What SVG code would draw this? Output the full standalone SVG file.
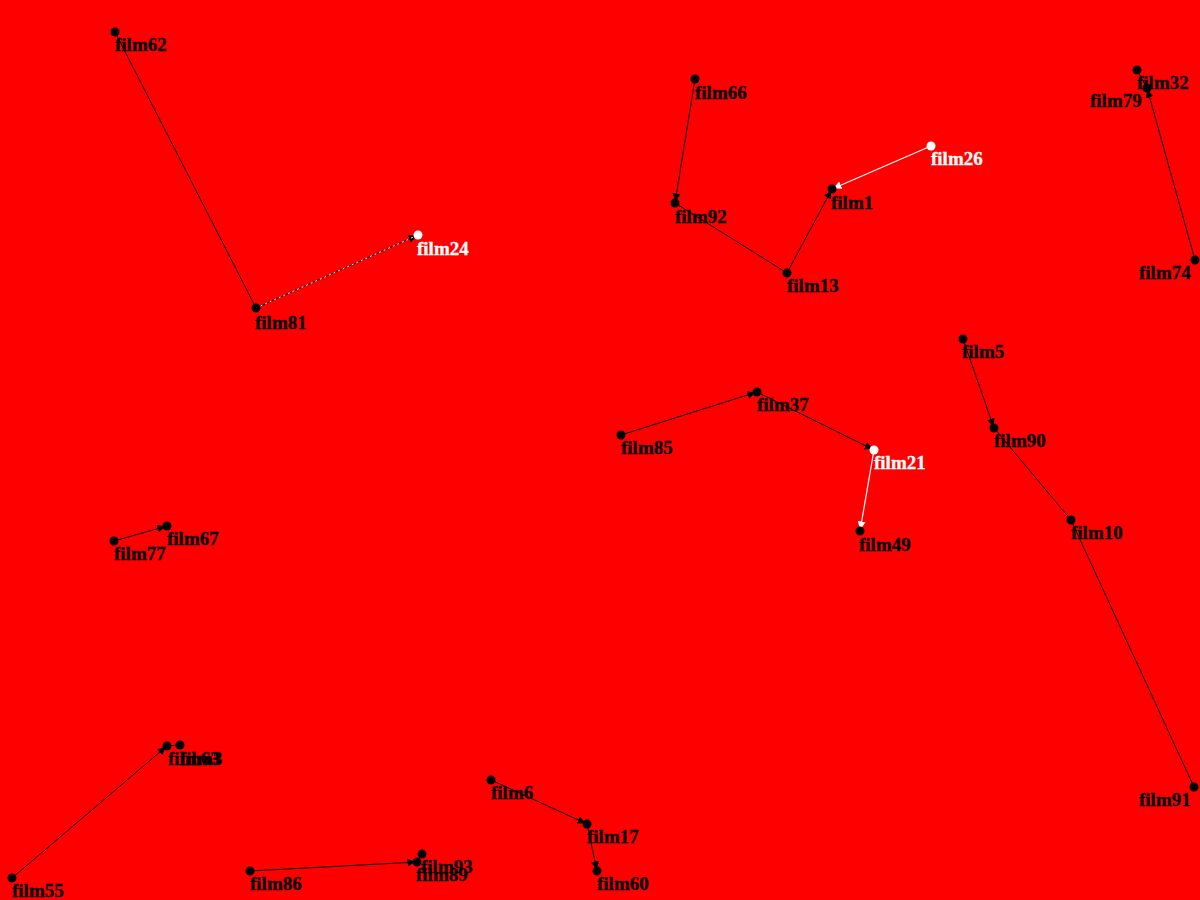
<svg xmlns="http://www.w3.org/2000/svg" width="1200" height="900" viewBox="0 0 1200 900">
<style>
.n{fill:#000}
.w{fill:#fff}
text{font-family:"Liberation Serif","Times New Roman",serif;font-weight:bold;font-size:19px;fill:#000;stroke:#000;stroke-width:0.3}
text.wt{fill:#fff;stroke:#fff}
.e{stroke:#000;stroke-width:1;fill:none}
.ew{stroke:#fff;stroke-width:1.2;fill:none}
.ed{stroke:#fff;stroke-width:1;stroke-dasharray:2 3;fill:none}
</style>
<defs>
<marker id="ab" viewBox="0 0 10 10" refX="12" refY="5" markerWidth="8" markerHeight="8" markerUnits="userSpaceOnUse" orient="auto"><path d="M0,0L10,5L0,10z" fill="#000"/></marker>
<marker id="aw" viewBox="0 0 10 10" refX="12" refY="5" markerWidth="8" markerHeight="8" markerUnits="userSpaceOnUse" orient="auto"><path d="M0,0L10,5L0,10z" fill="#fff"/></marker>
</defs>
<rect width="1200" height="900" fill="#ff0000"/>
<g id="connectors">
<line class="e" x1="115" y1="32" x2="256" y2="308"/>
<line class="e" x1="256" y1="308" x2="418" y2="235" marker-end="url(#ab)"/>
<line class="ed" x1="256" y1="308" x2="418" y2="235"/>
<line class="e" x1="695" y1="79" x2="675" y2="203" marker-end="url(#ab)"/>
<line class="e" x1="675" y1="203" x2="787" y2="273"/>
<line class="e" x1="787" y1="273" x2="832" y2="189" marker-end="url(#ab)"/>
<line class="ew" x1="931" y1="146" x2="832" y2="189" marker-end="url(#aw)"/>
<line class="e" x1="1195" y1="260" x2="1147" y2="88" marker-end="url(#ab)"/>
<line class="e" x1="1137" y1="70" x2="1147" y2="88"/>
<line class="e" x1="963" y1="339" x2="994" y2="428" marker-end="url(#ab)"/>
<line class="e" x1="994" y1="428" x2="1071" y2="520"/>
<line class="e" x1="1071" y1="520" x2="1194" y2="787"/>
<line class="e" x1="621" y1="435" x2="757" y2="392" marker-end="url(#ab)"/>
<line class="e" x1="757" y1="392" x2="874" y2="450" marker-end="url(#ab)"/>
<line class="ew" x1="874" y1="450" x2="860" y2="531" marker-end="url(#aw)"/>
<line class="e" x1="114" y1="541" x2="167" y2="526" marker-end="url(#ab)"/>
<line class="e" x1="12" y1="878" x2="167" y2="746" marker-end="url(#ab)"/>
<line class="e" x1="167" y1="746" x2="180" y2="745"/>
<line class="e" x1="491" y1="780" x2="587" y2="824" marker-end="url(#ab)"/>
<line class="e" x1="587" y1="824" x2="597" y2="871" marker-end="url(#ab)"/>
<line class="e" x1="250" y1="871" x2="417" y2="862" marker-end="url(#ab)"/>
<line class="e" x1="417" y1="862" x2="422" y2="854"/>
</g>
<g id="film62"><circle class="n" cx="115" cy="32" r="4.5"/><text x="115" y="51">film62</text></g>
<g id="film81"><circle class="n" cx="256" cy="308" r="4.5"/><text x="255" y="329">film81</text></g>
<g id="film24"><circle class="w" cx="418" cy="235" r="4.5"/><text class="wt" x="417" y="255">film24</text></g>
<g id="film66"><circle class="n" cx="695" cy="79" r="4.5"/><text x="695" y="99">film66</text></g>
<g id="film92"><circle class="n" cx="675" cy="203" r="4.5"/><text x="675" y="223">film92</text></g>
<g id="film13"><circle class="n" cx="787" cy="273" r="4.5"/><text x="787" y="292">film13</text></g>
<g id="film1"><circle class="n" cx="832" cy="189" r="4.5"/><text x="831" y="209">film1</text></g>
<g id="film26"><circle class="w" cx="931" cy="146" r="4.5"/><text class="wt" x="931" y="165">film26</text></g>
<g id="film32"><circle class="n" cx="1137" cy="70" r="4.5"/><text x="1137" y="89">film32</text></g>
<g id="film79"><circle class="n" cx="1147" cy="88" r="4.5"/><text x="1090" y="107">film79</text></g>
<g id="film74"><circle class="n" cx="1195" cy="260" r="4.5"/><text x="1139" y="279">film74</text></g>
<g id="film5"><circle class="n" cx="963" cy="339" r="4.5"/><text x="962" y="358">film5</text></g>
<g id="film90"><circle class="n" cx="994" cy="428" r="4.5"/><text x="994" y="447">film90</text></g>
<g id="film10"><circle class="n" cx="1071" cy="520" r="4.5"/><text x="1071" y="539">film10</text></g>
<g id="film91"><circle class="n" cx="1194" cy="787" r="4.5"/><text x="1139" y="806">film91</text></g>
<g id="film85"><circle class="n" cx="621" cy="435" r="4.5"/><text x="621" y="454">film85</text></g>
<g id="film37"><circle class="n" cx="757" cy="392" r="4.5"/><text x="757" y="411">film37</text></g>
<g id="film21"><circle class="w" cx="874" cy="450" r="4.5"/><text class="wt" x="874" y="469">film21</text></g>
<g id="film49"><circle class="n" cx="860" cy="531" r="4.5"/><text x="859" y="551">film49</text></g>
<g id="film77"><circle class="n" cx="114" cy="541" r="4.5"/><text x="114" y="560">film77</text></g>
<g id="film67"><circle class="n" cx="167" cy="526" r="4.5"/><text x="167" y="545">film67</text></g>
<g id="film55"><circle class="n" cx="12" cy="878" r="4.5"/><text x="12" y="897">film55</text></g>
<g id="film63"><circle class="n" cx="167" cy="746" r="4.5"/><text x="168" y="765">film63</text></g>
<g id="film3"><circle class="n" cx="180" cy="745" r="4.5"/><text x="180" y="765">film3</text></g>
<g id="film6"><circle class="n" cx="491" cy="780" r="4.5"/><text x="491" y="799">film6</text></g>
<g id="film17"><circle class="n" cx="587" cy="824" r="4.5"/><text x="587" y="843">film17</text></g>
<g id="film60"><circle class="n" cx="597" cy="871" r="4.5"/><text x="597" y="890">film60</text></g>
<g id="film86"><circle class="n" cx="250" cy="871" r="4.5"/><text x="250" y="890">film86</text></g>
<g id="film93"><circle class="n" cx="422" cy="854" r="4.5"/><text x="421" y="873">film93</text></g>
<g id="film89"><circle class="n" cx="417" cy="862" r="4.5"/><text x="416" y="881">film89</text></g>
</svg>
